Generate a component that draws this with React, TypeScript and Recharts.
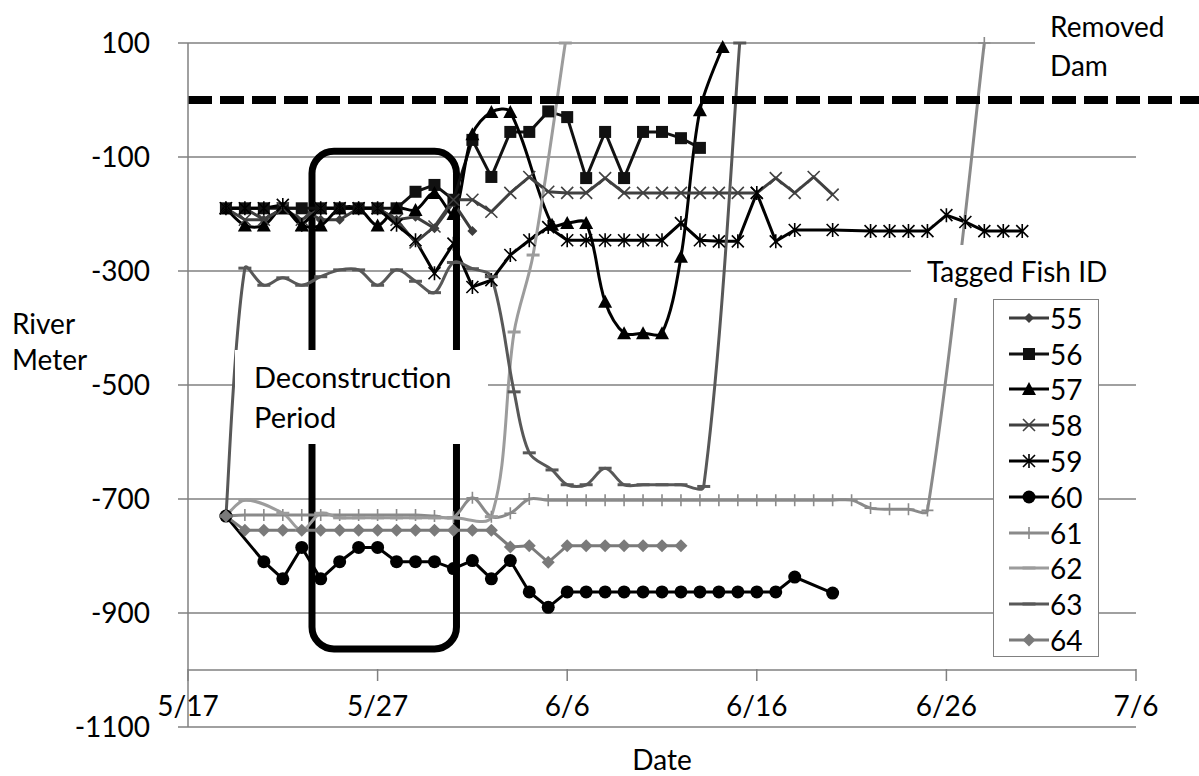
import React from 'react';
import { LineChart, Line, XAxis, YAxis, CartesianGrid, ReferenceLine, ReferenceArea } from 'recharts';

const CHART_W = 1199;
const CHART_H = 776;
const FONT = 'Lato, "Open Sans", sans-serif';

// [days after 5/17, river meter] for each tagged fish
const fish55 = [[2, -190], [3, -190], [4, -210], [5, -190], [6, -190], [7, -210], [8, -210], [9, -190], [10, -190], [11, -210], [12, -205], [13, -225], [14, -180], [15, -230]];
const fish56 = [[2, -190], [3, -190], [4, -190], [5, -190], [6, -190], [7, -190], [8, -190], [9, -190], [10, -190], [11, -190], [12, -161], [13, -149], [14, -175], [15, -70], [16, -135], [17, -56], [18, -56], [19, -20], [20, -30], [21, -137], [22, -56], [23, -137], [24, -56], [25, -56], [26, -67], [27, -84]];
const fish57 = [[2, -190], [3, -220], [4, -220], [5, -190], [6, -220], [7, -220], [8, -190], [9, -190], [10, -220], [11, -190], [12, -193], [13, -163], [14, -200], [15, -60], [16, -21], [17, -21], [19.2, -219], [20, -216], [21, -216], [22, -354], [23, -409], [24, -409], [25, -409], [26, -275], [27, -18], [28.2, 93]];
const fish58 = [[2, -190], [3, -210], [4, -210], [5, -190], [6, -210], [7, -190], [8, -190], [9, -190], [10, -190], [11, -210], [12, -250], [13, -222], [14, -175], [15, -175], [16, -196], [17, -163], [18, -135], [19, -161], [20, -163], [21, -163], [22, -137], [23, -163], [24, -163], [25, -163], [26, -163], [27, -163], [28, -163], [29, -163], [30, -163], [31, -137], [32, -163], [33, -135], [34, -166]];
const fish59 = [[2, -190], [3, -190], [4, -190], [5, -184], [6, -219], [7, -190], [8, -190], [9, -190], [10, -190], [11, -219], [12, -246], [13, -304], [14, -252], [15, -328], [16, -316], [17, -272], [18, -246], [19, -223], [20, -246], [21, -246], [22, -246], [23, -246], [24, -246], [25, -246], [26, -216], [27, -246], [28, -248], [29, -248], [30, -163], [31, -248], [32, -228], [34, -228], [36, -230], [37, -230], [38, -230], [39, -230], [40, -202], [41, -214], [42, -230], [43, -230], [44, -230]];
const fish60 = [[2, -730], [4, -810], [5, -840], [6, -785], [7, -840], [8, -810], [9, -785], [10, -785], [11, -810], [12, -810], [13, -810], [14, -822], [15, -808], [16, -840], [17, -808], [18, -863], [19, -890], [20, -863], [21, -863], [22, -863], [23, -863], [24, -863], [25, -863], [26, -863], [27, -863], [28, -863], [29, -863], [30, -863], [31, -863], [32, -837], [34, -865]];
const fish61 = [[2, -730], [3, -728], [4, -728], [5, -728], [6, -728], [7, -728], [8, -728], [9, -728], [10, -728], [11, -728], [12, -728], [13, -730], [14, -732], [15, -698], [16, -731], [17, -725], [18, -700], [19, -702], [20, -702], [21, -702], [22, -702], [23, -702], [24, -702], [25, -702], [26, -702], [27, -702], [28, -702], [29, -702], [30, -702], [31, -702], [32, -702], [33, -702], [34, -702], [35, -702], [36, -716], [37, -718], [38, -718], [39, -720], [42, 100]];
const fish62 = [[2, -730], [3, -702], [5, -725], [6, -755], [7, -725], [8, -733], [9, -733], [10, -733], [11, -733], [12, -733], [13, -733], [14, -733], [16, -731], [17.2, -407], [18.2, -272], [19.9, 100]];
const fish63 = [[2, -730], [3, -295], [4, -325], [5, -312], [6, -325], [7, -310], [8, -298], [9, -298], [10, -325], [11, -298], [12, -318], [13, -338], [14, -285], [15, -296], [16, -310], [17.2, -512], [18, -619], [19.2, -649], [20, -675], [21, -675], [22, -646], [23, -675], [24, -675], [25, -675], [26, -675], [27.2, -678], [29.1, 100]];
const fish64 = [[2, -730], [3, -755], [4, -755], [5, -755], [6, -755], [7, -755], [8, -755], [9, -755], [10, -755], [11, -755], [12, -755], [13, -755], [14, -755], [15, -755], [16, -755], [17, -784], [18, -782], [19, -811], [20, -782], [21, -782], [22, -782], [23, -782], [24, -782], [25, -782], [26, -782]];

const dateTicks = [0, 10, 20, 30, 40, 50];
const dateLabels = ['5/17', '5/27', '6/6', '6/16', '6/26', '7/6'];
const meterTicks = [100, -100, -300, -500, -700, -900, -1100];
const damMeter = 0;
const axisMeter = -1000;
// deconstruction window, days after 5/17 and meters
const deconDays = [6.54, 14.16];
const deconMeters = [-963, -90];

type MarkerKind = 'smallDiamond' | 'diamond' | 'square' | 'triangle' | 'x' | 'star' | 'circle' | 'plus' | 'dash';

const SERIES: { id: string; rows: number[][]; color: string; marker: MarkerKind; smooth: boolean }[] = [
  { id: '55', rows: fish55, color: '#3d3d3d', marker: 'smallDiamond', smooth: false },
  { id: '56', rows: fish56, color: '#111111', marker: 'square', smooth: false },
  { id: '57', rows: fish57, color: '#000000', marker: 'triangle', smooth: true },
  { id: '58', rows: fish58, color: '#404040', marker: 'x', smooth: false },
  { id: '59', rows: fish59, color: '#000000', marker: 'star', smooth: false },
  { id: '60', rows: fish60, color: '#000000', marker: 'circle', smooth: false },
  { id: '61', rows: fish61, color: '#8a8a8a', marker: 'plus', smooth: true },
  { id: '62', rows: fish62, color: '#9c9c9c', marker: 'dash', smooth: true },
  { id: '63', rows: fish63, color: '#585858', marker: 'dash', smooth: true },
  { id: '64', rows: fish64, color: '#7a7a7a', marker: 'diamond', smooth: false },
];

// smoothed line: tangents from the neighbours, scaled by chord length so
// uneven gaps do not overshoot
const smoothCurve = (context: any) => {
  let pts: number[][] = [];
  const dist = (a: number[], b: number[]) => Math.hypot(b[0] - a[0], b[1] - a[1]) || 1e-6;
  return {
    areaStart() {},
    areaEnd() {},
    lineStart() {
      pts = [];
    },
    point(x: number, y: number) {
      pts.push([x, y]);
    },
    lineEnd() {
      if (!pts.length) return;
      context.moveTo(pts[0][0], pts[0][1]);
      for (let i = 0; i < pts.length - 1; i++) {
        const p0 = pts[Math.max(0, i - 1)];
        const p1 = pts[i];
        const p2 = pts[i + 1];
        const p3 = pts[Math.min(pts.length - 1, i + 2)];
        const d12 = dist(p1, p2);
        const k1 = i === 0 ? 1 / 6 : d12 / (dist(p0, p1) + d12) / 3;
        const k2 = i + 2 > pts.length - 1 ? 1 / 6 : d12 / (d12 + dist(p2, p3)) / 3;
        context.bezierCurveTo(
          p1[0] + (p2[0] - p0[0]) * k1,
          p1[1] + (p2[1] - p0[1]) * k1,
          p2[0] - (p3[0] - p1[0]) * k2,
          p2[1] - (p3[1] - p1[1]) * k2,
          p2[0],
          p2[1]
        );
      }
    },
  };
};

const Marker = ({ kind, cx, cy, color }: { kind: MarkerKind; cx: number; cy: number; color: string }) => {
  switch (kind) {
    case 'smallDiamond':
      return <path d={`M${cx},${cy - 5}L${cx + 5},${cy}L${cx},${cy + 5}L${cx - 5},${cy}Z`} fill={color} />;
    case 'diamond':
      return <path d={`M${cx},${cy - 6.5}L${cx + 6.5},${cy}L${cx},${cy + 6.5}L${cx - 6.5},${cy}Z`} fill={color} />;
    case 'square':
      return <rect x={cx - 6} y={cy - 6} width={12} height={12} fill={color} />;
    case 'triangle':
      return <path d={`M${cx},${cy - 7}L${cx + 7},${cy + 6}L${cx - 7},${cy + 6}Z`} fill={color} />;
    case 'x':
      return <path d={`M${cx - 6},${cy - 6}L${cx + 6},${cy + 6}M${cx + 6},${cy - 6}L${cx - 6},${cy + 6}`} stroke={color} strokeWidth={1.6} fill="none" />;
    case 'star':
      return (
        <path
          d={`M${cx - 6},${cy - 6}L${cx + 6},${cy + 6}M${cx + 6},${cy - 6}L${cx - 6},${cy + 6}M${cx},${cy - 7}L${cx},${cy + 7}`}
          stroke={color}
          strokeWidth={1.6}
          fill="none"
        />
      );
    case 'circle':
      return <circle cx={cx} cy={cy} r={6.5} fill={color} />;
    case 'plus':
      return <path d={`M${cx},${cy - 6}L${cx},${cy + 6}M${cx - 6},${cy}L${cx + 6},${cy}`} stroke={color} strokeWidth={1.6} fill="none" />;
    case 'dash':
    default:
      return <path d={`M${cx - 6.5},${cy}L${cx + 6.5},${cy}`} stroke={color} strokeWidth={3} fill="none" />;
  }
};

const DateTick = ({ x, y, payload }: any) => {
  const idx = dateTicks.indexOf(payload.value);
  return (
    <g>
      <line x1={x} x2={x} y1={y - 58} y2={y - 46} stroke="#808080" strokeWidth={1.5} />
      <text x={x} y={y - 11} textAnchor="middle" fontSize={28} fontFamily={FONT} fill="#000">
        {dateLabels[idx]}
      </text>
    </g>
  );
};

const textStyle: React.CSSProperties = {
  position: 'absolute',
  fontFamily: FONT,
  fontSize: 28,
  color: '#000',
  whiteSpace: 'nowrap',
};

const FishLegend = () => (
  <div
    style={{
      position: 'absolute',
      left: 993,
      top: 299,
      width: 106,
      height: 358,
      boxSizing: 'border-box',
      border: '1.5px solid #808080',
      background: '#fff',
    }}
  >
    {SERIES.map((s) => (
      <div key={s.id} style={{ display: 'flex', alignItems: 'center', height: 35.8 }}>
        <svg width={56} height={20} style={{ flex: 'none' }}>
          <line x1={15} x2={55} y1={10} y2={10} stroke={s.color} strokeWidth={3} />
          <Marker kind={s.marker} cx={35} cy={10} color={s.color} />
        </svg>
        <span style={{ fontFamily: FONT, fontSize: 28, lineHeight: '28px' }}>{s.id}</span>
      </div>
    ))}
  </div>
);

const App: React.FC = () => {
  return (
    <div style={{ position: 'absolute', left: 0, top: 0, width: CHART_W, height: CHART_H, background: '#fff' }}>
      <LineChart width={CHART_W} height={CHART_H} margin={{ top: 43, right: 63, bottom: 0, left: 0 }}>
        <CartesianGrid vertical={false} stroke="#808080" strokeWidth={1.4} />
        <XAxis
          type="number"
          dataKey="d"
          domain={[0, 50]}
          ticks={dateTicks}
          height={49}
          axisLine={false}
          tickLine={false}
          tickSize={0}
          tickMargin={0}
          tick={DateTick}
          interval={0}
        />
        <YAxis
          type="number"
          domain={[-1100, 100]}
          ticks={meterTicks}
          width={188}
          interval={0}
          tickSize={10}
          tickMargin={28}
          axisLine={{ stroke: '#808080', strokeWidth: 1.5 }}
          tickLine={{ stroke: '#808080', strokeWidth: 1.5 }}
          tick={{ fontSize: 28, fill: '#000', fontFamily: FONT }}
        />
        <ReferenceLine y={axisMeter} stroke="#808080" strokeWidth={1.5} />
        {SERIES.map((s) => (
          <Line
            key={s.id}
            data={s.rows.map(([d, v]) => ({ d, v }))}
            dataKey="v"
            name={s.id}
            type={s.smooth ? (smoothCurve as any) : 'linear'}
            stroke={s.color}
            strokeWidth={3}
            dot={(p: any) => <Marker key={`${s.id}-${p.index}`} kind={s.marker} cx={p.cx} cy={p.cy} color={s.color} />}
            activeDot={false}
            isAnimationActive={false}
          />
        ))}
        <ReferenceArea
          x1={deconDays[0]}
          x2={deconDays[1]}
          y1={deconMeters[0]}
          y2={deconMeters[1]}
          shape={(p: any) => (
            <rect x={p.x} y={p.y} width={p.width} height={p.height} rx={22} ry={22} fill="none" stroke="#000" strokeWidth={7} />
          )}
        />
        <ReferenceLine
          y={damMeter}
          shape={(p: any) => (
            <line x1={p.x1} y1={p.y1} x2={CHART_W} y2={p.y2} stroke="#000" strokeWidth={8} strokeDasharray="24 8" />
          )}
        />
      </LineChart>

      <div style={{ ...textStyle, left: 12, top: 305, lineHeight: '36px' }}>
        River
        <br />
        Meter
      </div>
      <div style={{ ...textStyle, left: 612, width: 100, textAlign: 'center', top: 742, lineHeight: '34px' }}>Date</div>
      <div style={{ ...textStyle, left: 1035, top: 0, width: 164, height: 88, background: '#fff', paddingLeft: 15, paddingTop: 7, boxSizing: 'border-box', lineHeight: '39px' }}>
        Removed
        <br />
        Dam
      </div>
      <div style={{ ...textStyle, left: 911, top: 245, width: 229, height: 53, background: '#fff', paddingLeft: 16, boxSizing: 'border-box', lineHeight: '53px' }}>
        Tagged Fish ID
      </div>
      <div style={{ ...textStyle, fontSize: 29, left: 235, top: 350, width: 253, height: 94, background: '#fff', paddingLeft: 19, paddingTop: 7, boxSizing: 'border-box', lineHeight: '40px' }}>
        Deconstruction
        <br />
        Period
      </div>
      <FishLegend />
    </div>
  );
};

export default App;
